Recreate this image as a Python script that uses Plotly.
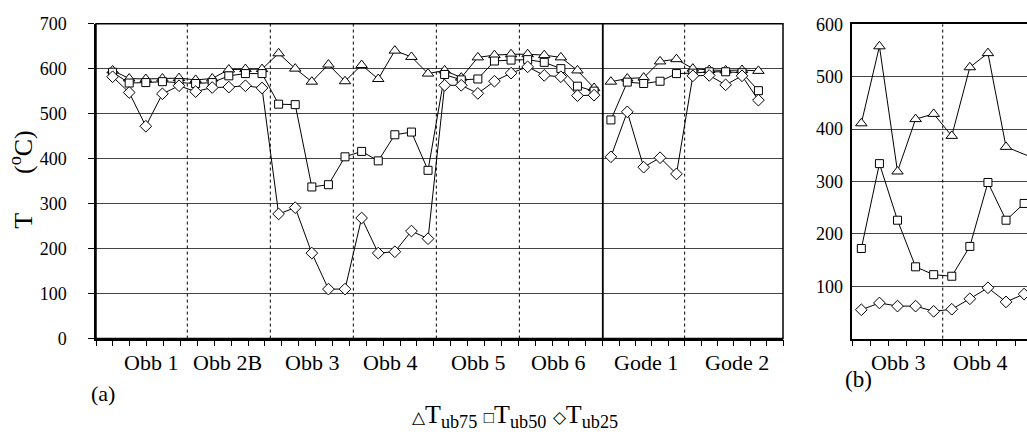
import plotly.graph_objects as go

# ---------------- data ----------------
obb_groups = ["Obb 1", "Obb 2B", "Obb 3", "Obb 4", "Obb 5", "Obb 6"]
gode_groups = ["Gode 1", "Gode 2"]
b_groups = ["Obb 3", "Obb 4"]

obb_t75 = [596, 578, 577, 578, 579, 575, 578, 598, 599, 599,
           634, 600, 571, 609, 572, 608, 577, 640, 626, 589,
           596, 580, 625, 630, 632, 632, 630, 625, 596, 557]
obb_t50 = [592, 568, 569, 571, 569, 567, 569, 584, 589, 589,
           521, 520, 337, 342, 404, 416, 395, 453, 459, 374,
           587, 575, 577, 617, 619, 620, 614, 600, 561, 550]
obb_t25 = [582, 547, 472, 544, 562, 549, 558, 559, 562, 557,
           277, 291, 190, 110, 110, 268, 190, 193, 239, 222,
           563, 563, 545, 572, 590, 604, 585, 582, 540, 541]

gode_t75 = [571, 578, 580, 616, 621, 600, 597, 596, 597, 595]
gode_t50 = [486, 570, 567, 572, 589, 590, 593, 593, 591, 551]
gode_t25 = [404, 504, 381, 402, 366, 584, 585, 564, 584, 530]

b_t75 = [411, 558, 319, 419, 429, 387, 518, 545, 366, None, 338]
b_t50 = [172, 334, 226, 137, 122, 119, 176, 298, 226, 258]
b_t25 = [55, 68, 62, 62, 52, 56, 76, 97, 70, 85]

series_names = ["T<sub>ub75</sub>", "T<sub>ub50</sub>", "T<sub>ub25</sub>"]
a_yticks = [0, 100, 200, 300, 400, 500, 600, 700]
b_yticks = [100, 200, 300, 400, 500, 600]

# ---------------- geometry ----------------
W, H = 1027, 438
FONT = "Liberation Serif, Times New Roman, serif"
def px(x):
    return x / W
def py(y):
    return (H - y) / H

ydom_a = [py(344.3), py(14.3)]
ydom_b = [py(344.3), py(15.0)]
xdom_obb = [px(96), px(602.7)]
xdom_gode = [px(602.7), px(783)]
xdom_b = [px(852.3), 1.0]
obb_range = [0, 30.52]

symbols = ["triangle-up", "square", "diamond"]
sizes = [10, 8, 9]

fig = go.Figure()

def add_series(xs_axis, ys_axis, values_list, connect=False):
    for vals, sym, sz, nm in zip(values_list, symbols, sizes, series_names):
        fig.add_trace(go.Scatter(
            x=list(range(1, len(vals) + 1)), y=vals,
            xaxis=xs_axis, yaxis=ys_axis, name=nm, showlegend=False,
            mode="lines+markers", connectgaps=connect,
            line=dict(color="black", width=1),
            marker=dict(symbol=sym, size=sz, color="white",
                        line=dict(color="black", width=1)),
        ))

add_series("x", "y", [obb_t75, obb_t50, obb_t25])
add_series("x2", "y", [gode_t75, gode_t50, gode_t25])
add_series("x3", "y2", [b_t75, b_t50, b_t25], connect=True)

tickfont = dict(family=FONT, size=18, color="black")
xcommon = dict(showticklabels=False, ticks="outside", ticklen=6, tickwidth=1,
               tickcolor="black", showgrid=False, zeroline=False,
               showline=True, linecolor="black", linewidth=1.5)

fig.update_layout(
    width=W, height=H, margin=dict(l=0, r=0, t=0, b=0),
    paper_bgcolor="white", plot_bgcolor="white", showlegend=False,
    xaxis=dict(domain=xdom_obb, range=obb_range, tickmode="linear", tick0=0,
               dtick=obb_range[1] / 30, anchor="y", **xcommon),
    xaxis2=dict(domain=xdom_gode, range=[0.5, 11.5], tickmode="linear", tick0=0.5,
                dtick=1, anchor="y", **xcommon),
    xaxis3=dict(domain=xdom_b, range=[0.5, 10.16], tickmode="linear", tick0=0.5,
                dtick=1, anchor="y2", mirror=True, **xcommon),
    yaxis=dict(domain=ydom_a, range=[0, 700], tickmode="array", tickvals=a_yticks,
               ticks="outside", ticklen=6, tickcolor="black", tickfont=tickfont,
               ticklabelstandoff=18,
               showgrid=True, gridcolor="#444", gridwidth=1, zeroline=False,
               showline=True, linecolor="black", linewidth=1.5, anchor="x"),
    yaxis2=dict(domain=ydom_b, range=[0, 600], tickmode="array", tickvals=b_yticks,
                ticks="", tickfont=tickfont, ticklabelstandoff=4,
                showgrid=True, gridcolor="#444", gridwidth=1, zeroline=False,
                showline=True, linecolor="black", linewidth=1.5, anchor="x3"),
)

shapes = []
# frames of panel (a)
for xr in ["x domain", "x2 domain"]:
    shapes.append(dict(type="rect", xref=xr, yref="y domain", x0=0, x1=1, y0=0, y1=1,
                       line=dict(color="black", width=1.5), layer="above"))
# dashed group separators
dash = dict(color="black", width=1, dash="3px,3px")
for k in range(1, len(obb_groups)):
    shapes.append(dict(type="line", xref="x", yref="y domain", x0=5 * k + 0.5,
                       x1=5 * k + 0.5, y0=0, y1=1, line=dash))
for k in range(1, len(gode_groups)):
    shapes.append(dict(type="line", xref="x2", yref="y domain", x0=5 * k + 0.5,
                       x1=5 * k + 0.5, y0=0, y1=1, line=dash))
for k in range(1, len(b_groups)):
    shapes.append(dict(type="line", xref="x3", yref="y2 domain", x0=5 * k + 0.5,
                       x1=5 * k + 0.5, y0=0, y1=1, line=dash))
fig.update_layout(shapes=shapes)

ann = []
catfont = dict(family=FONT, size=22, color="black")
label_y = py(369)
obb_label_x = [3.3, 7.9, 13.0, 17.7, 23.0, 27.8]
for name, xv in zip(obb_groups, obb_label_x):
    ann.append(dict(text=name, x=xv, xref="x", y=label_y, yref="paper",
                    showarrow=False, font=catfont, xanchor="center", yanchor="middle"))
gode_label_x = [3.14, 8.7]
for name, xv in zip(gode_groups, gode_label_x):
    ann.append(dict(text=name, x=xv, xref="x2", y=label_y, yref="paper",
                    showarrow=False, font=catfont, xanchor="center", yanchor="middle"))
b_label_x = [3.0, 7.58]
for name, xv in zip(b_groups, b_label_x):
    ann.append(dict(text=name, x=xv, xref="x3", y=label_y, yref="paper",
                    showarrow=False, font=catfont, xanchor="center", yanchor="middle"))

ann.append(dict(text="(a)", x=px(89), y=py(402), xref="paper", yref="paper",
                showarrow=False, font=catfont, xanchor="left", yanchor="middle"))
ann.append(dict(text="(b)", x=px(843), y=py(387), xref="paper", yref="paper",
                showarrow=False, font=dict(family=FONT, size=23, color="black"),
                xanchor="left", yanchor="middle"))

ann.append(dict(text="T" + "\u00a0" * 6 + "(<sup>o</sup>C)", textangle=-90,
                x=px(22), y=py(178), xref="paper", yref="paper", showarrow=False,
                font=dict(family=FONT, size=26, color="black"),
                xanchor="center", yanchor="middle"))

sym_txt = ["\u25b3", "\u25a1", "\u25c7"]
legend_txt = "\u00a0".join(
    f"<span style='font-size:17px'>{s}</span>{n}" for s, n in zip(sym_txt, series_names))
ann.append(dict(text=legend_txt, x=px(515), y=py(425), xref="paper", yref="paper",
                showarrow=False, font=dict(family=FONT, size=26, color="black"),
                xanchor="center", yanchor="middle"))
fig.update_layout(annotations=ann)

fig.write_html("out.html")
